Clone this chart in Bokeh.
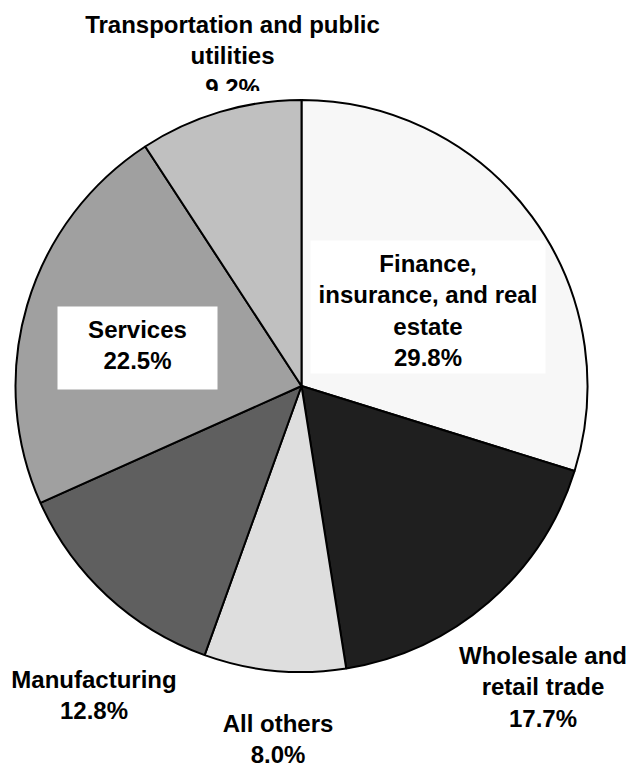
import math
from bokeh.plotting import figure
from bokeh.models import Range1d
from bokeh.core.properties import value
from bokeh.embed import file_html
from bokeh.resources import INLINE

# ---- data ----
categories = ["Finance, insurance, and real estate", "Wholesale and retail trade",
              "All others", "Manufacturing", "Services",
              "Transportation and public utilities"]
shares = [29.8, 17.7, 8.0, 12.8, 22.5, 9.2]
label_lines = [["Finance,", "insurance, and real", "estate"],
               ["Wholesale and", "retail trade"],
               ["All others"],
               ["Manufacturing"],
               ["Services"],
               ["Transportation and public", "utilities"]]

# ---- styles / layout ----
colors = ["#f7f7f7", "#1f1f1f", "#dedede", "#5f5f5f", "#a0a0a0", "#c0c0c0"]
W, H = 629, 767
IMG_H = 767
def Y(py):
    return IMG_H - py

cx, cy, R = 301, Y(385.5), 286
# label anchors: (center x, first baseline in image px)
label_pos = [(427.5, 263), (542.5, 655), (277.5, 723), (93.5, 679), (137, 329), (232, 24)]
line_step = 31.3
boxed = {0: (310, 545, 240, 373), 4: (57, 217, 306, 389)}

p = figure(width=W, height=H, output_backend="svg", toolbar_location=None,
           x_range=Range1d(0, W), y_range=Range1d(IMG_H - H, IMG_H),
           min_border=0, outline_line_color=None)
p.axis.visible = False
p.grid.visible = False
p.background_fill_color = "white"
p.border_fill_color = "white"

font = value("Liberation Sans")

def draw_label(i):
    lx, b0 = label_pos[i]
    lines = label_lines[i] + [f"{shares[i]:.1f}%"]
    xs = [lx] * len(lines)
    ys = [Y(b0 + k * line_step) for k in range(len(lines))]
    p.text(xs, ys, text=lines, text_align="center", text_baseline="alphabetic",
           text_font=font, text_font_style="bold", text_font_size="24px",
           text_color="black")

# transportation label (drawn first, its box clips the last line)
draw_label(5)
p.quad(left=[170], right=[300], top=[Y(90.5)], bottom=[Y(130)],
       fill_color="white", line_color=None)

# pie
total = sum(shares)
cum = 0.0
starts, ends = [], []
for s in shares:
    starts.append(math.pi / 2 - cum / total * 2 * math.pi)
    cum += s
    ends.append(math.pi / 2 - cum / total * 2 * math.pi)
p.wedge(x=[cx] * len(shares), y=[cy] * len(shares), radius=R,
        start_angle=starts, end_angle=ends, direction="clock",
        fill_color=colors, line_color="black", line_width=2)

# boxes
for i, (l, r, t, b) in boxed.items():
    p.quad(left=[l], right=[r], top=[Y(t)], bottom=[Y(b)],
           fill_color="white", line_color=None)

for i in range(5):
    draw_label(i)

open("out.html", "w").write(file_html(p, INLINE))
